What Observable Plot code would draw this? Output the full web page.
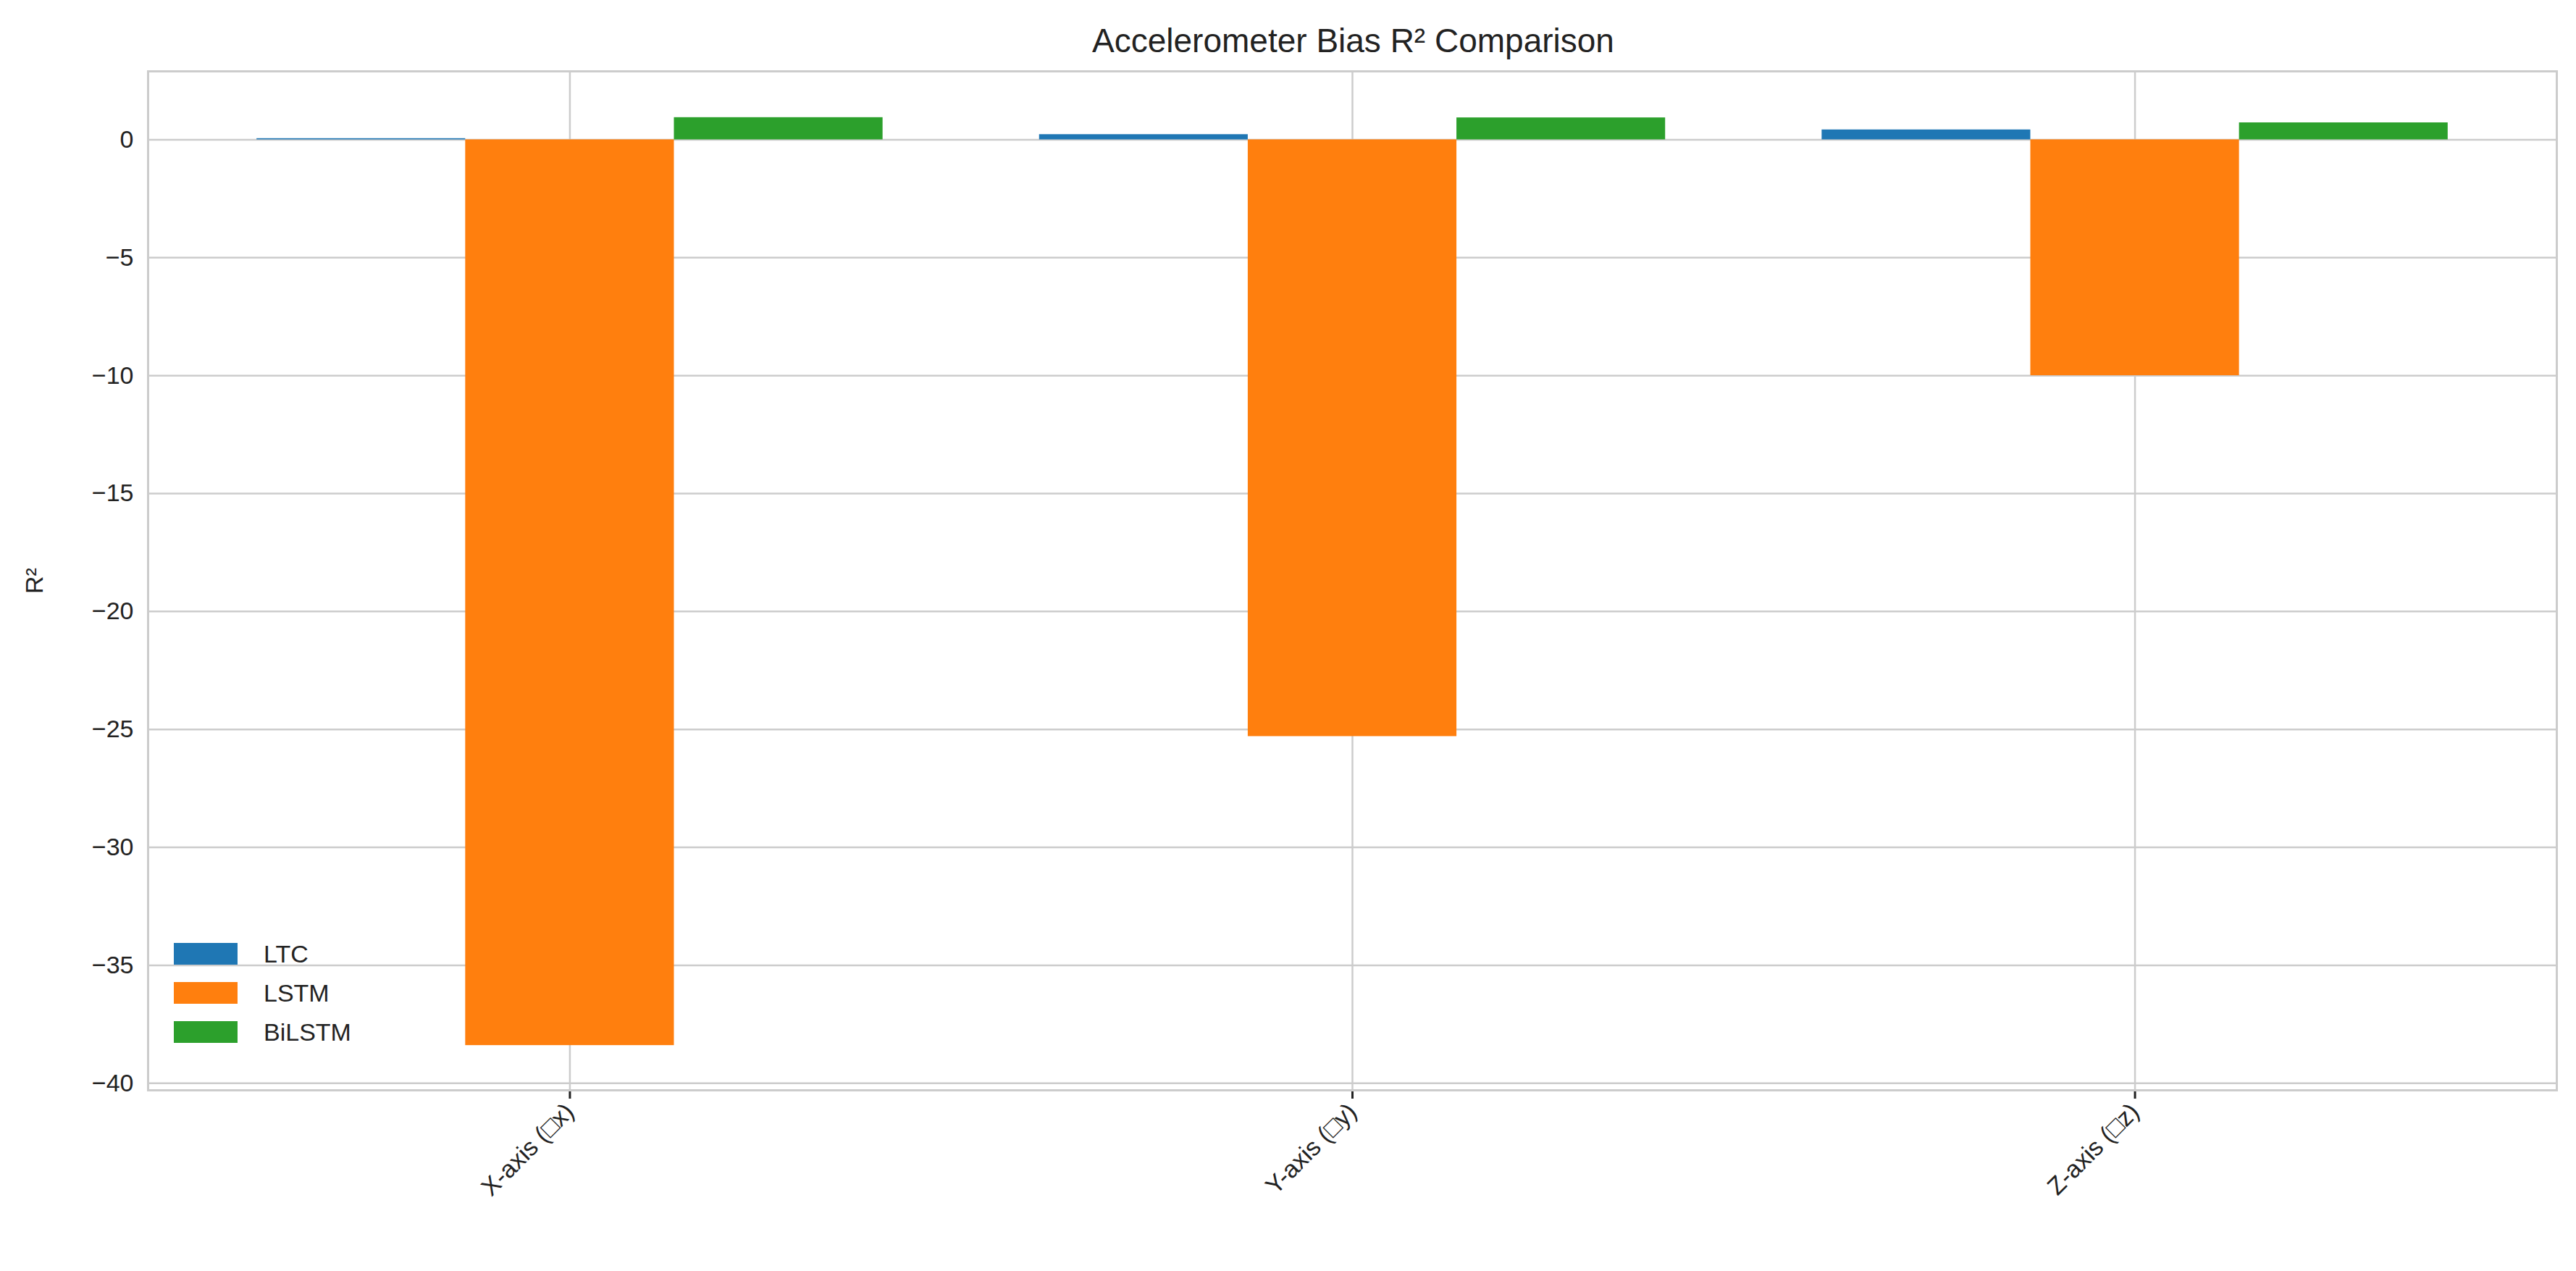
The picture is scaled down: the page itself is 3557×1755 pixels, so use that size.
<!DOCTYPE html>
<html>
<head>
<meta charset="utf-8">
<script src="https://cdn.jsdelivr.net/npm/d3@7"></script>
<script src="https://cdn.jsdelivr.net/npm/@observablehq/plot@0.6"></script>
<style>
  body { margin: 0; background: white; font-family: "Liberation Sans", Arial, sans-serif; }
  #wrap { position: relative; width: 3557px; }
  #title { height: 90px; line-height: 112px; text-align: center; font-size: 46px; color: #222; padding-left: 180px; }
  #legend { position: absolute; left: 240px; top: 1290px; font-size: 34px; color: #222; }
  #legend div { display: flex; align-items: center; height: 54px; }
  #legend span.sw { width: 88px; height: 30px; margin-right: 36px; display: inline-block; }
</style>
</head>
<body>
<div id="wrap">
  <div id="title">Accelerometer Bias R² Comparison</div>
  <div id="chart"></div>
  <div id="legend"></div>
</div>
<script>
const categories = ["X-axis (□x)", "Y-axis (□y)", "Z-axis (□z)"];
const models = ["LTC", "LSTM", "BiLSTM"];
const colors = ["#1f77b4", "#ff7f0e", "#2ca02c"];
const ltc = [0.05, 0.22, 0.42];
const lstm = [-38.4, -25.3, -10.0];
const bilstm = [0.94, 0.93, 0.72];
const yTicks = [0, -5, -10, -15, -20, -25, -30, -35, -40];

const series = [ltc, lstm, bilstm];
const w = 0.8 / 3;
const data = [];
categories.forEach((c, i) => {
  models.forEach((m, j) => {
    const x0 = i + (j - 1) * w - w / 2;
    data.push({ cat: c, model: m, x1: x0, x2: x0 + w, v: series[j][i] });
  });
});

const chart = Plot.plot({
  width: 3557,
  height: 1665,
  marginTop: 8,
  marginLeft: 204,
  marginRight: 27,
  marginBottom: 250,
  style: { "font-family": "Liberation Sans, Arial, sans-serif", "font-size": "34px", color: "#222", background: "white" },
  x: { domain: [-0.539, 2.539], ticks: [0, 1, 2], tickFormat: (d) => categories[d], tickRotate: -45, label: null, tickSize: 12 },
  y: { domain: [-40.3, 2.9], ticks: yTicks, label: "R²", labelAnchor: "center", labelArrow: "none", labelOffset: 170, tickSize: 0, tickPadding: 20, tickFormat: (d) => d3.format("")(d).replace("-", "−") },
  color: { domain: models, range: colors },
  marks: [
    Plot.gridX([0, 1, 2], { stroke: "#cccccc", strokeOpacity: 1, strokeWidth: 2.5 }),
    Plot.gridY(yTicks, { stroke: "#cccccc", strokeOpacity: 1, strokeWidth: 2.5 }),
    Plot.rectY(data, { x1: "x1", x2: "x2", y1: 0, y2: "v", fill: "model" }),
    Plot.axisX({ ticks: [0, 1, 2], tickFormat: (d) => categories[d], tickRotate: -45, tickSize: 12, tickPadding: 12, strokeWidth: 3, fontSize: 34, textAnchor: "end" }),
    Plot.frame({ stroke: "#cccccc", strokeWidth: 3 })
  ]
});
document.getElementById("chart").append(chart);

const legend = d3.select("#legend");
models.forEach((m, j) => {
  const row = legend.append("div");
  row.append("span").attr("class", "sw").style("background", colors[j]);
  row.append("span").text(m);
});
</script>
</body>
</html>
